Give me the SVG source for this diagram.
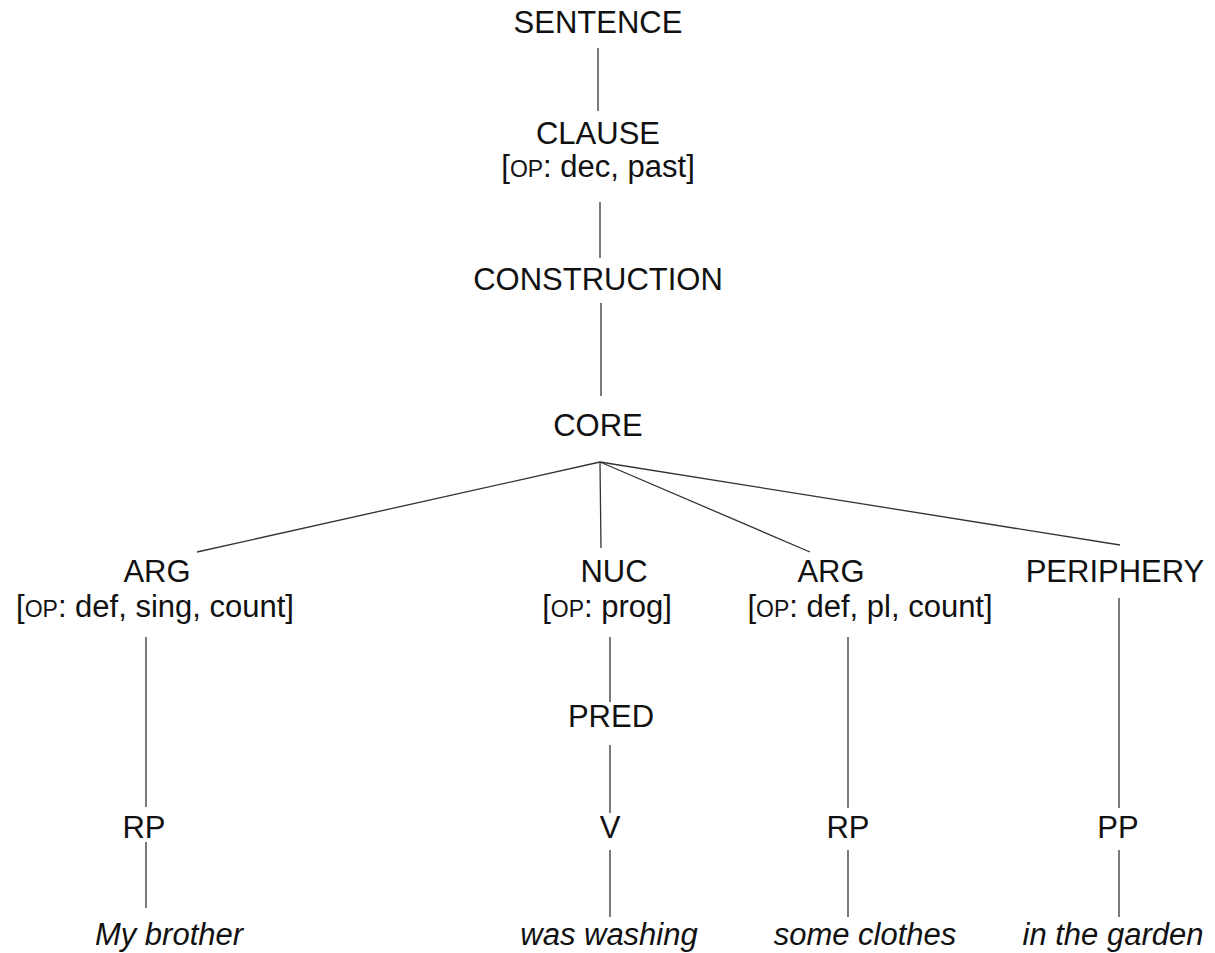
<svg xmlns="http://www.w3.org/2000/svg" width="1215" height="953" viewBox="0 0 1215 953">
<style>
text{font-family:"Liberation Sans",Arial,sans-serif;font-size:31px;fill:#111;text-anchor:middle}
.it{font-style:italic}
.sc{font-size:23px}
.edges line{stroke:#333;stroke-width:1.3}
</style>
<rect width="1215" height="953" fill="#fff"/>
<g class="edges" id="connectors">
<line x1="598" y1="48" x2="598" y2="111"/>
<line x1="600" y1="202" x2="600" y2="258"/>
<line x1="601" y1="303" x2="601" y2="396"/>
<line x1="600" y1="462" x2="197" y2="552"/>
<line x1="600" y1="462" x2="601" y2="548"/>
<line x1="600" y1="462" x2="810" y2="552"/>
<line x1="600" y1="462" x2="1120" y2="545"/>
<line x1="146" y1="637" x2="146" y2="807"/>
<line x1="610" y1="637" x2="610" y2="702"/>
<line x1="610" y1="745" x2="610" y2="813"/>
<line x1="848" y1="637" x2="848" y2="808"/>
<line x1="1119" y1="598" x2="1119" y2="808"/>
<line x1="146" y1="842" x2="146" y2="908"/>
<line x1="610" y1="850" x2="610" y2="917"/>
<line x1="848" y1="850" x2="848" y2="917"/>
<line x1="1119" y1="850" x2="1119" y2="917"/>
</g>
<g id="sentence"><text x="598" y="33">SENTENCE</text></g>
<g id="clause"><text x="598" y="144">CLAUSE</text><text x="598" y="177">[<tspan class="sc">OP</tspan>: dec, past]</text></g>
<g id="construction"><text x="598" y="290">CONSTRUCTION</text></g>
<g id="core"><text x="598" y="436">CORE</text></g>
<g id="arg1"><text x="157" y="582">ARG</text><text x="155" y="617">[<tspan class="sc">OP</tspan>: def, sing, count]</text></g>
<g id="nuc"><text x="614" y="582">NUC</text><text x="607" y="617">[<tspan class="sc">OP</tspan>: prog]</text></g>
<g id="arg2"><text x="831" y="582">ARG</text><text x="870" y="617">[<tspan class="sc">OP</tspan>: def, pl, count]</text></g>
<g id="periphery"><text x="1115" y="582">PERIPHERY</text></g>
<g id="pred"><text x="611" y="727">PRED</text></g>
<g id="rp1"><text x="144" y="838">RP</text></g>
<g id="v"><text x="610" y="838">V</text></g>
<g id="rp2"><text x="848" y="838">RP</text></g>
<g id="pp"><text x="1118" y="838">PP</text></g>
<g id="w1"><text class="it" x="169" y="945">My brother</text></g>
<g id="w2"><text class="it" x="609" y="945">was washing</text></g>
<g id="w3"><text class="it" x="865" y="945">some clothes</text></g>
<g id="w4"><text class="it" x="1113" y="945">in the garden</text></g>
</svg>
